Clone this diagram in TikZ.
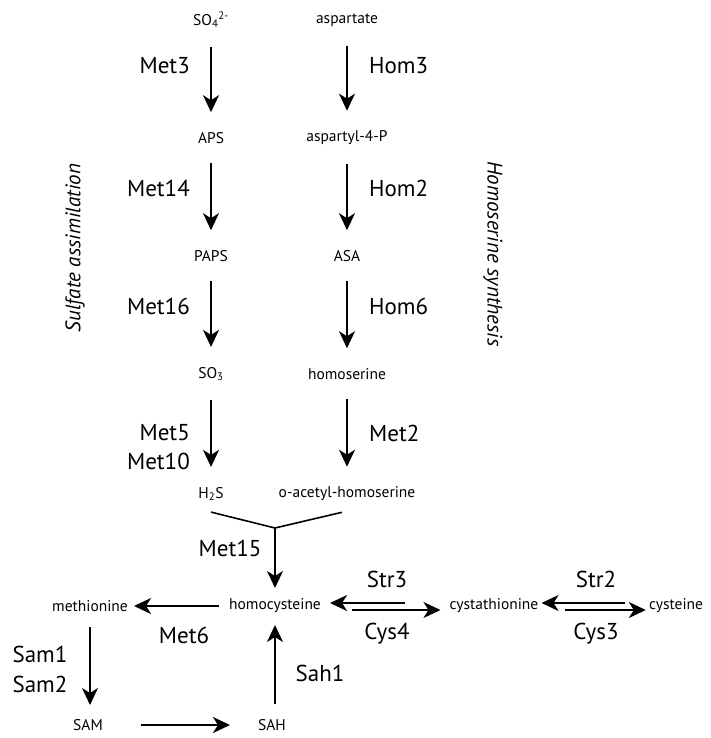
\documentclass[tikz,border=0pt]{standalone}
\usepackage{fontspec}
\setmainfont{PT Sans}
\usetikzlibrary{arrows.meta,calc}
\begin{document}
\begin{tikzpicture}[x=1pt,y=-1pt,
  every node/.style={inner sep=2pt},
  cmp/.style={font=\fontsize{15.5}{17}\selectfont},
  enz/.style={font=\fontsize{23}{26}\selectfont},
  side/.style={font=\fontsize{21}{24}\selectfont\itshape},
  arr/.style={line width=1.6pt,-{Stealth[length=17pt,width=16pt,inset=5pt]}},
  varr/.style={arr,shorten <=17pt,shorten >=18pt},
  plain/.style={line width=1.6pt}]
\useasboundingbox (0,0) rectangle (711,738);
% compounds
\node[cmp] (so4) at (211,20) {SO\textsubscript{4}\textsuperscript{2-}};
\node[cmp] (asp) at (347,20) {aspartate};
\node[cmp] (aps) at (211,138) {APS};
\node[cmp] (a4p) at (347,138) {aspartyl-4-P};
\node[cmp] (paps) at (211,256) {PAPS};
\node[cmp] (asa) at (347,256) {ASA};
\node[cmp] (so3) at (211,374) {SO\textsubscript{3}};
\node[cmp] (hser) at (347,374) {homoserine};
\node[cmp] (h2s) at (211,494) {H\textsubscript{2}S};
\node[cmp] (oah) at (347,494) {o-acetyl-homoserine};
\node[cmp] (hcys) at (275,606) {homocysteine};
\node[cmp] (met) at (90,606) {methionine};
\node[cmp] (cysta) at (494,606) {cystathionine};
\node[cmp] (cys) at (676,606) {cysteine};
\node[cmp] (sam) at (88,725) {SAM};
\node[cmp] (sah) at (272,725) {SAH};
\coordinate (j) at (275,528);
% enzymes
\node[enz,anchor=east] (e1) at (192,66) {Met3};
\node[enz,anchor=east] (e2) at (192,188) {Met14};
\node[enz,anchor=east] (e3) at (192,306) {Met16};
\node[enz,anchor=east] (e4) at (192,433) {Met5};
\node[enz,anchor=east] (e5) at (192,461) {Met10};
\node[enz,anchor=west] (h1) at (367,66) {Hom3};
\node[enz,anchor=west] (h2) at (367,188) {Hom2};
\node[enz,anchor=west] (h3) at (367,306) {Hom6};
\node[enz,anchor=west] (h4) at (367,433) {Met2};
\node[enz] (m15) at (230,548) {Met15};
\node[enz] (m6) at (184,635) {Met6};
\node[enz] (str3) at (387,579) {Str3};
\node[enz] (cys4) at (387,634) {Cys4};
\node[enz] (str2) at (596,579) {Str2};
\node[enz] (cys3) at (596,634) {Cys3};
\node[enz] (sam1) at (40,654) {Sam1};
\node[enz] (sam2) at (40,684) {Sam2};
\node[enz] (sah1) at (320,673) {Sah1};
\node[side,rotate=90] (sul) at (75,248) {Sulfate assimilation};
\node[side,rotate=-90] (hom) at (493,254) {Homoserine synthesis};
% vertical arrows
\draw[varr] (so4) -- (aps);
\draw[varr] (aps) -- (paps);
\draw[varr] (paps) -- (so3);
\draw[varr] (so3) -- (h2s);
\draw[varr] (asp) -- (a4p);
\draw[varr] (a4p) -- (asa);
\draw[varr] (asa) -- (hser);
\draw[varr] (hser) -- (oah);
% junction
\draw[plain] ($(h2s.south)+(0,9)$) -- (j) -- ($(oah.south)+(-5,9)$);
\draw[arr,shorten >=18pt] (j) -- (hcys.center);
% methionine cycle
\draw[arr,shorten <=8pt,shorten >=4pt] (hcys.west) -- (met.east);
\draw[arr,shorten <=21pt,shorten >=20pt] (met.center) -- (met.center |- sam.center);
\draw[arr] ($(sam.east)+(36,0)$) -- ($(sah.west)+(-26,0)$);
\draw[arr,shorten <=21pt,shorten >=19pt] (hcys.center |- sah.center) -- (hcys.center);
% reversible arrows
\draw[arr] ($(hcys.east)+(82,-3)$) -- ($(hcys.east)+(7,-3)$);
\draw[arr] ($(hcys.east)+(29,4)$) -- ($(cysta.west)+(-7,4)$);
\draw[arr] ($(cys.west)+(-22,-3)$) -- ($(cysta.east)+(1,-3)$);
\draw[arr] ($(cysta.east)+(24,4)$) -- ($(cys.west)+(-1,4)$);
\end{tikzpicture}
\end{document}
